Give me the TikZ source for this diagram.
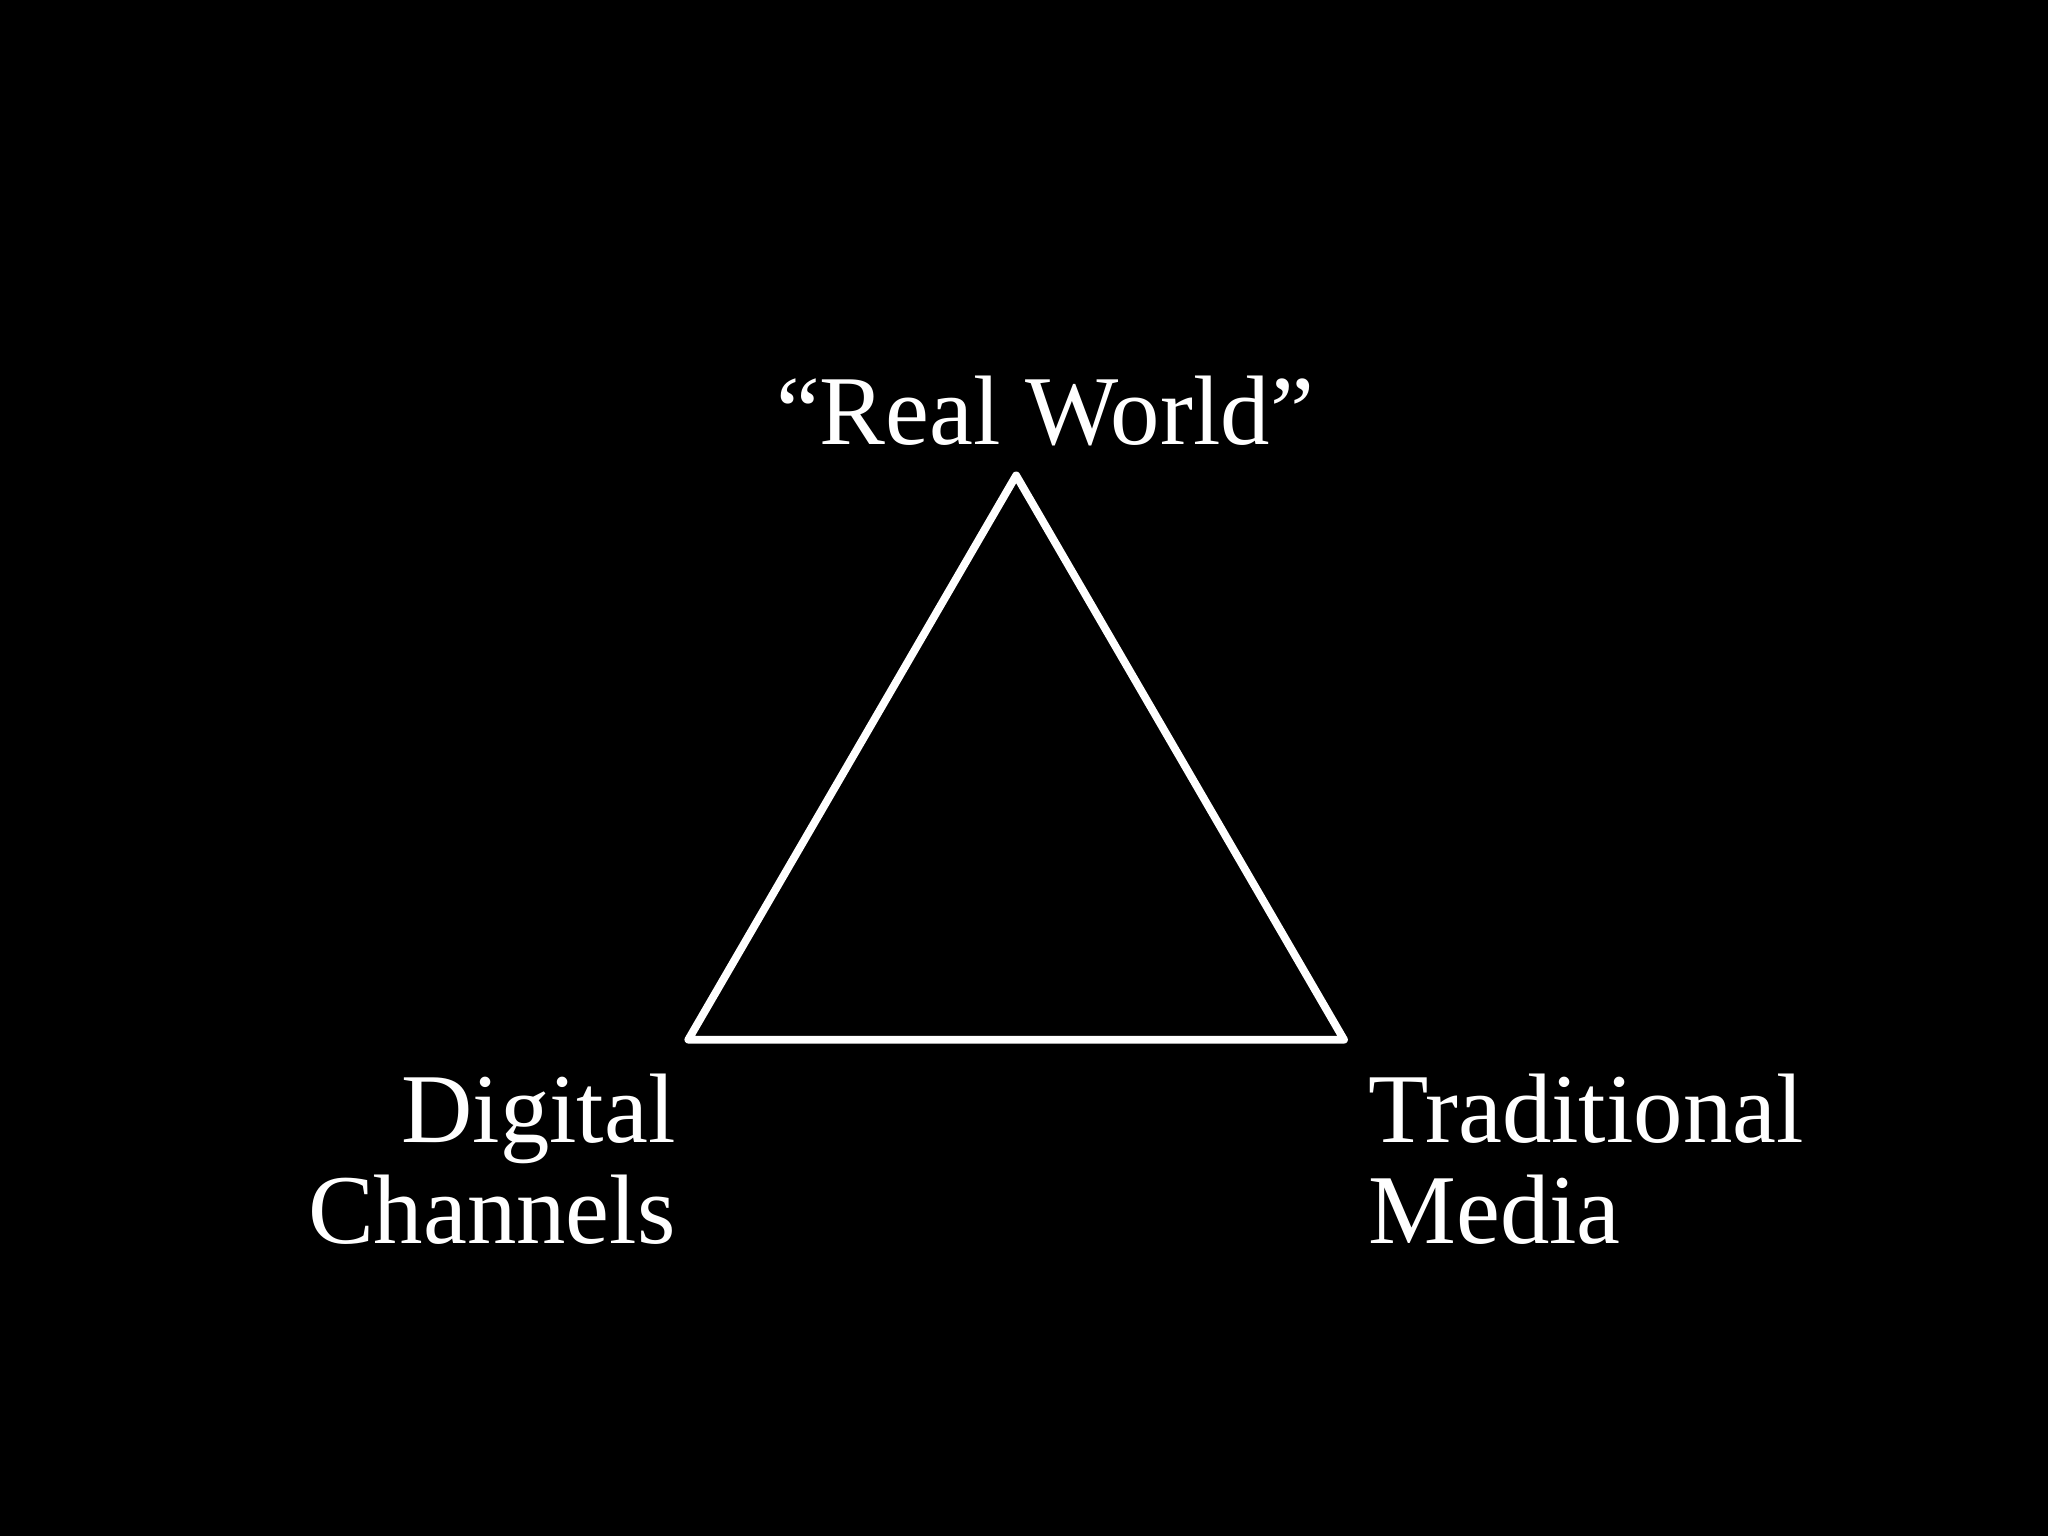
\documentclass[tikz,border=0pt]{standalone}
\usepackage{fontspec}
\setmainfont{Liberation Serif}
\begin{document}
\begin{tikzpicture}[x=0.01cm,y=-0.01cm,
  lbl/.style={text=white,font=\fontsize{21.5}{21.9}\selectfont,inner sep=0pt}]
\fill[black] (0,0) rectangle (1568,1176);
\useasboundingbox (0,0) rectangle (1568,1176);
\coordinate (top) at (778,364);
\coordinate (bl) at (527,796);
\coordinate (br) at (1029,796);
\draw[white,line width=1.7pt,line join=round] (top) -- (br) -- (bl) -- cycle;
\node[lbl,anchor=base] (rw) at (800,340) {“Real World”};
\node[lbl,anchor=base east,align=right] (dc) at (518,952) {Digital\\Channels};
\node[lbl,anchor=base west,align=left] (tm) at (1047,952) {Traditional\\Media};
\end{tikzpicture}
\end{document}
